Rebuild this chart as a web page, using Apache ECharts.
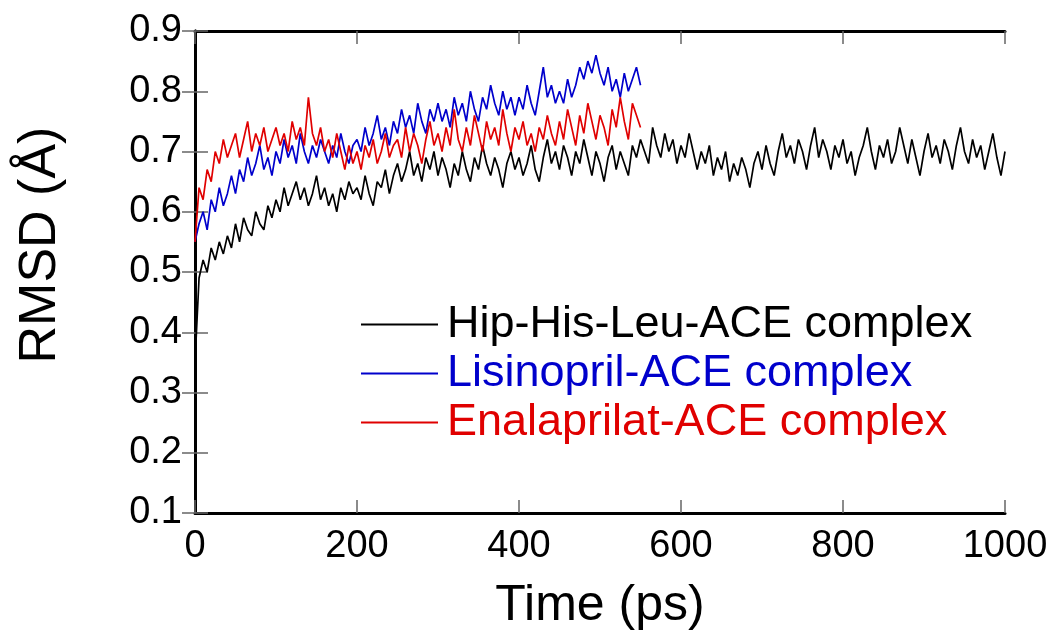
<!DOCTYPE html>
<html>
<head>
<meta charset="utf-8">
<script src="https://cdn.jsdelivr.net/npm/echarts@6/dist/echarts.min.js"></script>
<style>html,body{margin:0;padding:0;background:#fff}#c{width:1050px;height:641px}</style>
</head>
<body>
<div id="c"></div>
<script>
// sampling interval of the trajectories (ps)
var timeStep = 5;
var seriesNames = ['Hip-His-Leu-ACE complex', 'Lisinopril-ACE complex', 'Enalaprilat-ACE complex'];
var xTicks = [0, 200, 400, 600, 800, 1000];
var yTicks = [0.1, 0.2, 0.3, 0.4, 0.5, 0.6, 0.7, 0.8, 0.9];

// RMSD (Å), one value every 5 ps
var hipHisLeu = [
  0.35, 0.49, 0.52, 0.50, 0.54, 0.52, 0.55, 0.53, 0.56, 0.54,
  0.58, 0.55, 0.59, 0.57, 0.56, 0.60, 0.58, 0.57, 0.61, 0.59,
  0.62, 0.60, 0.64, 0.61, 0.63, 0.65, 0.62, 0.64, 0.61, 0.63,
  0.66, 0.62, 0.64, 0.61, 0.63, 0.60, 0.64, 0.62, 0.65, 0.63,
  0.64, 0.62, 0.66, 0.63, 0.61, 0.65, 0.64, 0.67, 0.63, 0.66,
  0.68, 0.65, 0.67, 0.70, 0.66, 0.68, 0.65, 0.69, 0.67, 0.70,
  0.66, 0.69, 0.67, 0.64, 0.68, 0.66, 0.70, 0.67, 0.65, 0.69,
  0.67, 0.71, 0.68, 0.66, 0.69, 0.67, 0.64, 0.68, 0.70, 0.67,
  0.69, 0.66, 0.68, 0.71, 0.67, 0.65, 0.69, 0.72, 0.68, 0.70,
  0.67, 0.71, 0.69, 0.66, 0.70, 0.68, 0.72, 0.69, 0.66, 0.70,
  0.68, 0.65, 0.69, 0.71, 0.67, 0.70, 0.68, 0.66, 0.71, 0.69,
  0.72, 0.70, 0.68, 0.74, 0.71, 0.69, 0.73, 0.70, 0.72, 0.68,
  0.71, 0.69, 0.73, 0.70, 0.67, 0.70, 0.68, 0.71, 0.66, 0.69,
  0.67, 0.70, 0.65, 0.68, 0.66, 0.69, 0.67, 0.64, 0.68, 0.70,
  0.67, 0.71, 0.68, 0.66, 0.70, 0.73, 0.69, 0.71, 0.68, 0.72,
  0.70, 0.67, 0.71, 0.74, 0.69, 0.72, 0.70, 0.67, 0.71, 0.69,
  0.72, 0.68, 0.70, 0.66, 0.69, 0.71, 0.74, 0.70, 0.67, 0.71,
  0.69, 0.72, 0.68, 0.70, 0.74, 0.71, 0.68, 0.72, 0.69, 0.66,
  0.70, 0.73, 0.69, 0.71, 0.68, 0.72, 0.70, 0.67, 0.71, 0.74,
  0.70, 0.68, 0.72, 0.69, 0.71, 0.67, 0.70, 0.73, 0.69, 0.66,
  0.70
];
var lisinopril = [
  0.55, 0.58, 0.60, 0.57, 0.62, 0.60, 0.64, 0.61, 0.63, 0.66,
  0.63, 0.67, 0.65, 0.69, 0.66, 0.68, 0.71, 0.67, 0.69, 0.66,
  0.70, 0.68, 0.72, 0.69, 0.71, 0.68, 0.73, 0.70, 0.68, 0.71,
  0.69, 0.72, 0.70, 0.68, 0.71, 0.69, 0.73, 0.70, 0.68, 0.71,
  0.72, 0.70, 0.74, 0.71, 0.73, 0.76, 0.72, 0.74, 0.71, 0.75,
  0.73, 0.77, 0.74, 0.76, 0.73, 0.78, 0.75, 0.73, 0.77, 0.75,
  0.78, 0.75, 0.77, 0.74, 0.79, 0.76, 0.78, 0.75, 0.80, 0.77,
  0.75, 0.79, 0.77, 0.81, 0.78, 0.76, 0.80, 0.77, 0.79, 0.76,
  0.79, 0.77, 0.81, 0.78, 0.76, 0.80, 0.84, 0.79, 0.81, 0.78,
  0.80, 0.78, 0.82, 0.79, 0.81, 0.84, 0.82, 0.85, 0.83, 0.86,
  0.83, 0.81, 0.84, 0.80, 0.82, 0.79, 0.83, 0.80, 0.82, 0.84,
  0.81
];
var enalaprilat = [
  0.55, 0.64, 0.62, 0.67, 0.65, 0.70, 0.68, 0.72, 0.69, 0.71,
  0.73, 0.69, 0.72, 0.75, 0.70, 0.73, 0.71, 0.74, 0.70, 0.72,
  0.74, 0.71, 0.73, 0.70, 0.75, 0.72, 0.74, 0.71, 0.79, 0.73,
  0.71, 0.74, 0.70, 0.72, 0.69, 0.73, 0.70, 0.67, 0.71, 0.68,
  0.70, 0.67, 0.71, 0.69, 0.72, 0.68, 0.70, 0.73, 0.69, 0.71,
  0.72, 0.69, 0.74, 0.70, 0.73, 0.71, 0.68, 0.72, 0.75, 0.71,
  0.73, 0.70, 0.74, 0.71, 0.77, 0.72, 0.70, 0.74, 0.71, 0.76,
  0.73, 0.70, 0.75, 0.72, 0.74, 0.71, 0.77, 0.73, 0.70, 0.74,
  0.72, 0.75, 0.71, 0.73, 0.70, 0.74, 0.72, 0.76, 0.73, 0.71,
  0.75, 0.72, 0.77, 0.74, 0.71, 0.76, 0.73, 0.78, 0.75, 0.72,
  0.76, 0.74, 0.71, 0.77, 0.74, 0.79, 0.75, 0.72, 0.78, 0.76,
  0.74
];

function pairs(vals) {
  return vals.map(function (v, i) { return [i * timeStep, v]; });
}

var colors = ['#000000', '#0000cc', '#e00000'];
var font = 'Liberation Sans, Arial, Helvetica, sans-serif';

var chart = echarts.init(document.getElementById('c'), null, {renderer: 'canvas'});
var axisBase = {
  axisLine: {show: true, lineStyle: {color: '#000', width: 3}},
  axisTick: {show: true, inside: true, length: 13, lineStyle: {color: '#666', width: 1.5}},
  splitLine: {show: false}
};
chart.setOption({
  animation: false,
  backgroundColor: '#fff',
  grid: {left: 195, right: 45, top: 31, bottom: 128, containLabel: false, outerBoundsMode: 'none'},
  xAxis: [
    Object.assign({}, axisBase, {
      type: 'value', min: 0, max: 1000, interval: 200, position: 'bottom',
      axisLabel: {color: '#000', fontSize: 38, fontFamily: font, margin: 15,
        formatter: function (v) { return xTicks.indexOf(v) >= 0 ? String(v) : ''; }},
      name: 'Time (ps)', nameLocation: 'middle', nameGap: 68, nameMoveOverlap: false,
      nameTextStyle: {color: '#000', fontSize: 50, fontFamily: font}
    }),
    Object.assign({}, axisBase, {
      type: 'value', min: 0, max: 1000, interval: 200, position: 'top',
      axisLabel: {show: false}
    })
  ],
  yAxis: [
    Object.assign({}, axisBase, {
      type: 'value', min: 0.1, max: 0.9, interval: 0.1, position: 'left',
      axisLabel: {color: '#000', fontSize: 38, fontFamily: font, margin: 13,
        formatter: function (v) { return v.toFixed(1); }},
      name: 'RMSD (Å)', nameLocation: 'middle', nameGap: 128, nameRotate: 90, nameMoveOverlap: false,
      nameTextStyle: {color: '#000', fontSize: 52, fontFamily: font, padding: [0, 0, 0, 54]}
    }),
    Object.assign({}, axisBase, {
      type: 'value', min: 0.1, max: 0.9, interval: 0.1, position: 'right',
      axisLabel: {show: false}
    })
  ],
  legend: {
    orient: 'vertical', left: 361, top: 300, padding: 0,
    icon: 'rect', itemWidth: 77, itemHeight: 2, itemGap: 0,
    textStyle: {fontSize: 45, fontFamily: font, lineHeight: 49, padding: [0, 0, 0, 4]},
    data: seriesNames.map(function (n, i) { return {name: n, textStyle: {color: colors[i]}}; })
  },
  series: [
    {name: seriesNames[0], type: 'line', data: pairs(hipHisLeu), symbol: 'none',
      lineStyle: {color: colors[0], width: 1.7}, itemStyle: {color: colors[0]}},
    {name: seriesNames[1], type: 'line', data: pairs(lisinopril), symbol: 'none',
      lineStyle: {color: colors[1], width: 1.7}, itemStyle: {color: colors[1]}},
    {name: seriesNames[2], type: 'line', data: pairs(enalaprilat), symbol: 'none',
      lineStyle: {color: colors[2], width: 1.7}, itemStyle: {color: colors[2]}}
  ]
});
</script>
</body>
</html>
